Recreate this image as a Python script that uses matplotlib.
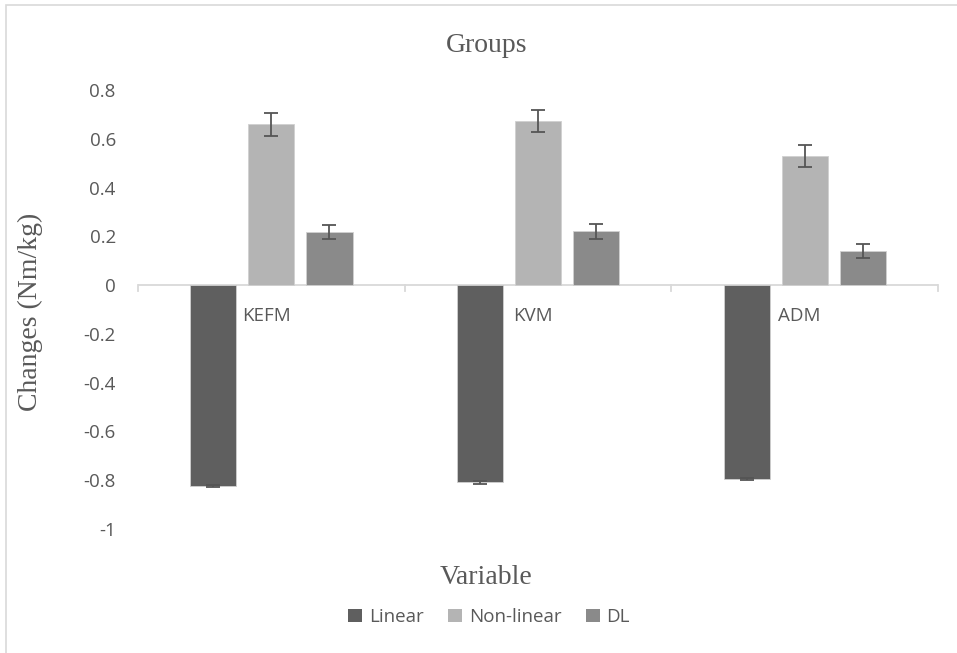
import numpy as np
import matplotlib
matplotlib.use("Agg")
from matplotlib import pyplot as plt
from matplotlib.patches import Rectangle

categories = ["KEFM", "KVM", "ADM"]
series = ["Linear", "Non-linear", "DL"]
linear = [-0.825, -0.810, -0.795]
nonlinear = [0.659, 0.673, 0.529]
dl = [0.217, 0.220, 0.138]
linear_err = [0.005, 0.005, 0.005]
nonlinear_err = [0.046, 0.046, 0.046]
dl_err = [0.030, 0.030, 0.029]

colors = ["#5f5f5f", "#b4b4b4", "#8a8a8a"]
txt = "#595959"
sans = "Open Sans"
serif = "Liberation Serif"
fs_sans = 13.5
fs_serif = 20

fig = plt.figure(figsize=(9.57, 6.53), dpi=100)
ax = fig.add_axes([0.1442, 0.1903, 0.836, 0.6717])

# outer chart border (top and left only visible)
fig.patches.append(Rectangle((6 / 957, -0.1), 1.2, 1 - 5 / 653 + 0.1,
                             transform=fig.transFigure, fill=False,
                             edgecolor="#d9d9d9", linewidth=1.2))

x = np.arange(len(categories))
w = 0.173
step = w + 0.045
vals = [linear, nonlinear, dl]
errs = [linear_err, nonlinear_err, dl_err]
for i, (v, e) in enumerate(zip(vals, errs)):
    ax.bar(x + (i - 1) * step, v, width=w, color=colors[i], label=series[i],
           edgecolor="#d0d0d0", linewidth=0.6, zorder=2,
           yerr=e, error_kw=dict(ecolor="#555555", elinewidth=1.3,
                                 capsize=5, capthick=1.3))

ax.set_xlim(-0.5, len(categories) - 0.5)
ax.set_ylim(-1, 0.8)
ax.set_yticks(np.arange(-1, 0.81, 0.2))
ax.set_yticklabels(["-1", "-0.8", "-0.6", "-0.4", "-0.2", "0",
                    "0.2", "0.4", "0.6", "0.8"])
ax.tick_params(axis="y", length=0, pad=16, labelsize=fs_sans, labelcolor=txt)
for lab in ax.get_yticklabels():
    lab.set_fontfamily(sans)
ax.set_xticks([])
for s in ax.spines.values():
    s.set_visible(False)

# category axis along zero
ax.axhline(0, color="#d9d9d9", linewidth=1.3, zorder=1)
for b in np.arange(-0.5, len(categories), 1.0):
    ax.plot([b, b], [0, -0.025], color="#d9d9d9", linewidth=1.3,
            zorder=1, clip_on=False)
for xi, c in zip(x, categories):
    ax.text(xi - 0.02, -0.125, c, ha="center", va="center", fontsize=fs_sans,
            color=txt, fontfamily=sans)

fig.text(0.509, 0.931, "Groups", ha="center", va="center", fontsize=fs_serif,
         color=txt, fontfamily=serif)
fig.text(0.508, 0.116, "Variable", ha="center", va="center", fontsize=fs_serif,
         color=txt, fontfamily=serif)
fig.text(0.032, 0.522, "Changes (Nm/kg)", ha="center", va="center",
         fontsize=fs_serif, color=txt, fontfamily=serif, rotation=90)

leg = fig.legend(loc="center", bbox_to_anchor=(0.511, 0.055), ncol=3,
                 frameon=False, handlelength=0.75, handleheight=0.75,
                 handletextpad=0.35, columnspacing=1.3,
                 prop={"family": sans, "size": fs_sans})
for t in leg.get_texts():
    t.set_color(txt)
for h in leg.legend_handles:
    h.set_edgecolor("none")

fig.savefig("out.png", dpi=100)
